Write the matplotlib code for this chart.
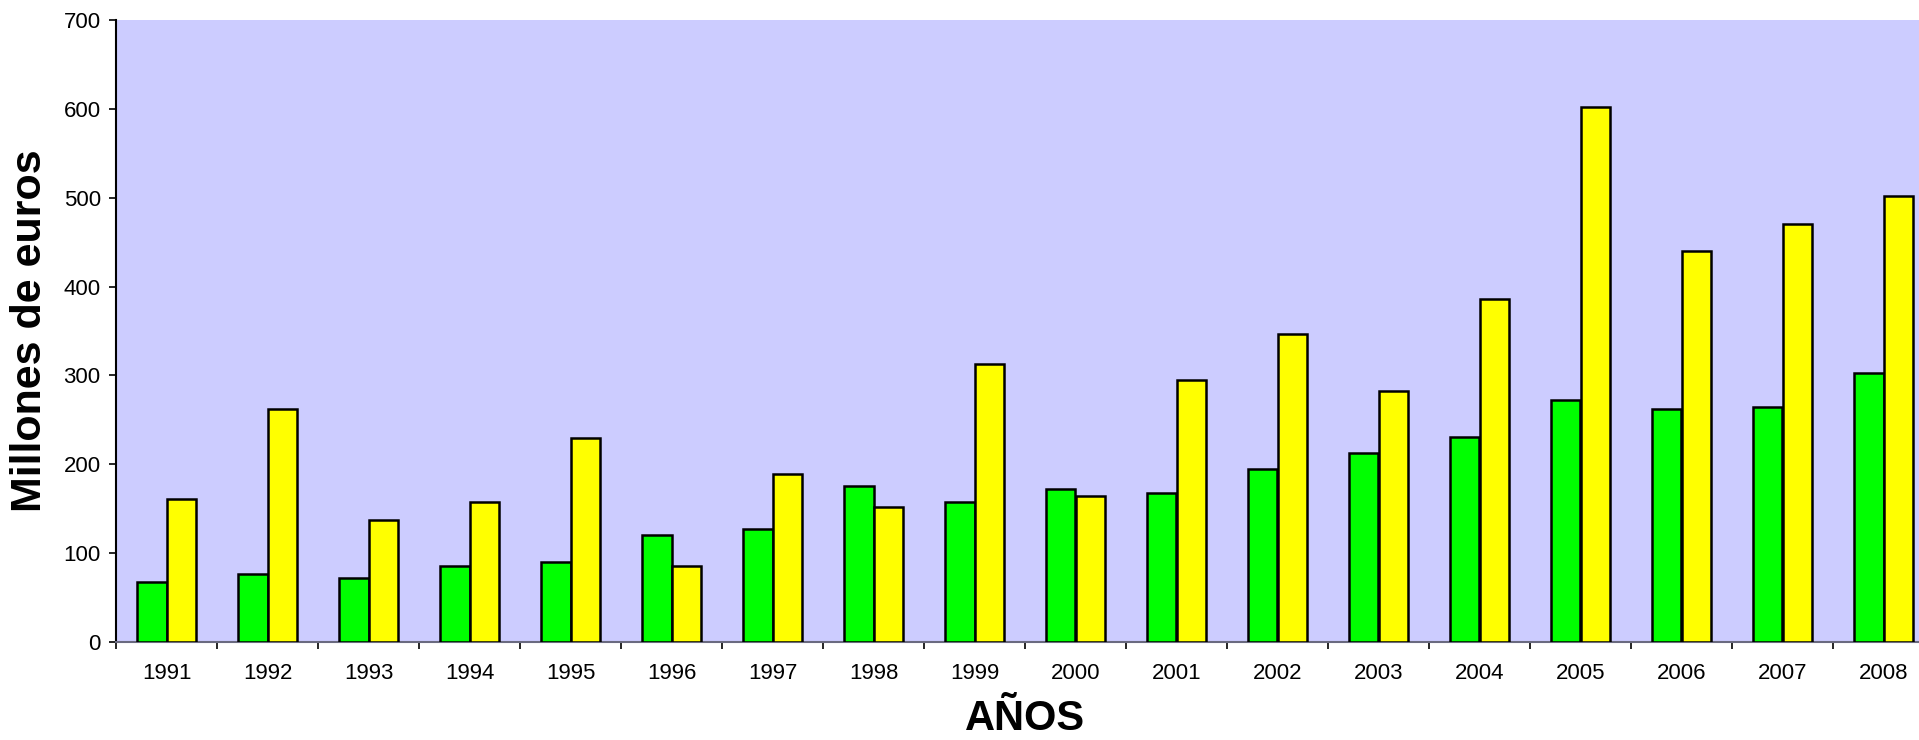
import numpy as np
import matplotlib
matplotlib.use('Agg')
import matplotlib.pyplot as plt

plt.rcParams['font.family'] = ['Liberation Sans', 'DejaVu Sans']

anios = ['1991', '1992', '1993', '1994', '1995', '1996', '1997', '1998', '1999',
         '2000', '2001', '2002', '2003', '2004', '2005', '2006', '2007', '2008']
serie_verde = [67, 77, 72, 86, 90, 120, 127, 176, 157,
               172, 168, 195, 213, 231, 272, 262, 265, 303]
serie_amarilla = [161, 262, 137, 158, 230, 86, 189, 152, 313,
                  164, 295, 347, 282, 386, 602, 440, 470, 502]
y_ticks = [0, 100, 200, 300, 400, 500, 600, 700]

fig = plt.figure(figsize=(19.19, 7.4), dpi=100)
# el area de trazado se sale un poco por la derecha, como en la imagen original
ax = fig.add_axes([116 / 1919, 98 / 740, 1818 / 1919, 622 / 740])
ax.set_facecolor('#CCCCFF')

x = np.arange(len(anios))
w = 0.2875
ax.bar(x - w / 2, serie_verde, w, color='#00FF00', edgecolor='black', linewidth=1.8, zorder=3)
ax.bar(x + w / 2, serie_amarilla, w, color='#FFFF00', edgecolor='black', linewidth=1.8, zorder=3)

ax.set_xlim(-0.5, len(anios) - 0.5)
ax.set_ylim(0, 700)
ax.set_yticks(y_ticks)
ax.set_yticklabels([str(v) for v in y_ticks], fontsize=16)

# marcas entre categorias, etiquetas centradas
ax.set_xticks(np.arange(len(anios) + 1) - 0.5)
ax.set_xticklabels([])
ax.set_xticks(x, minor=True)
ax.set_xticklabels(anios, minor=True, fontsize=16)
ax.tick_params(axis='x', which='major', direction='out', length=5, width=1.2, color='black')
ax.tick_params(axis='x', which='minor', length=0, pad=15)
ax.tick_params(axis='y', direction='out', length=5, width=1.2, pad=6)

ax.spines['top'].set_visible(False)
ax.spines['right'].set_visible(False)
ax.spines['left'].set_linewidth(1.5)
ax.spines['bottom'].set_color('#6A6A80')
ax.spines['bottom'].set_linewidth(1.5)

ax.set_ylabel('Millones de euros', fontsize=31, fontweight='bold', labelpad=10)
ax.set_xlabel('AÑOS', fontsize=30, fontweight='bold', labelpad=11)

fig.savefig('out.png', dpi=100)
